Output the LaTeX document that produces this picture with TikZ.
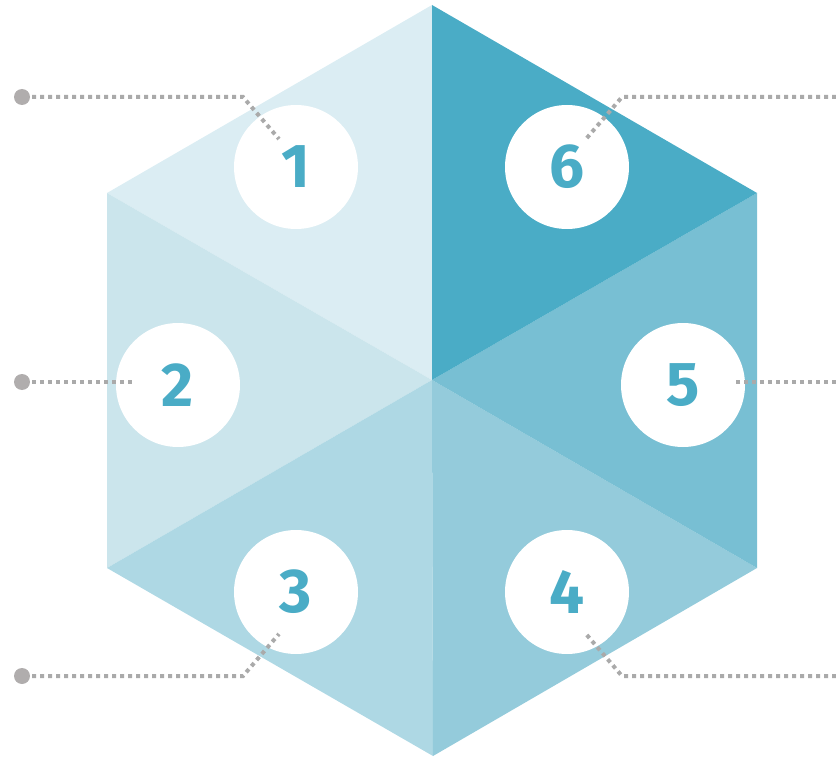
\documentclass[tikz,border=0pt]{standalone}
\usepackage{fontspec}
\setmainfont{Fira Sans}
\definecolor{cA}{HTML}{DBEDF3}
\definecolor{cB}{HTML}{CBE5EC}
\definecolor{cC}{HTML}{AED8E4}
\definecolor{cD}{HTML}{94CBDB}
\definecolor{cE}{HTML}{78BFD3}
\definecolor{cF}{HTML}{4AACC6}
\definecolor{dotgray}{HTML}{AAAAAA}
\definecolor{endgray}{HTML}{B0ADAD}
\begin{document}
\begin{tikzpicture}[x=1pt,y=-1pt,
  badge/.style={circle,fill=white,minimum size=124pt,inner sep=0pt,text=cF,font=\fontsize{62}{62}\selectfont\bfseries},
  leader/.style={draw=dotgray,line width=4pt,dash pattern=on 4pt off 4pt},
  enddot/.style={circle,fill=endgray,minimum size=16pt,inner sep=0pt}]
\useasboundingbox (0,0) rectangle (836,757);
\coordinate (O) at (432,380);
\coordinate (T) at (432,5);
\coordinate (TR) at (757,193);
\coordinate (BR) at (757,568);
\coordinate (B) at (433,756);
\coordinate (BL) at (107,568);
\coordinate (TL) at (107,193);
\fill[cA] (O) -- (TL) -- (T) -- cycle;
\fill[cB] (O) -- (BL) -- (TL) -- cycle;
\fill[cC] (O) -- (B) -- (BL) -- cycle;
\fill[cD] (O) -- (BR) -- (B) -- cycle;
\fill[cE] (O) -- (TR) -- (BR) -- cycle;
\fill[cF] (O) -- (T) -- (TR) -- cycle;
% badges
\node[badge] (n1) at (296,167) {1};
\node[badge] (n6) at (567,167) {6};
\node[badge] (n2) at (178,385) {2};
\node[badge] (n5) at (683,385) {5};
\node[badge] (n3) at (296,592) {3};
\node[badge] (n4) at (567,592) {4};
% leaders
\node[enddot] (e1) at (22,97) {};
\node[enddot] (e2) at (22,382) {};
\node[enddot] (e3) at (22,676) {};
\coordinate (r1) at (836,97);
\coordinate (r2) at (836,382);
\coordinate (r3) at (836,676);
\draw[leader] (e1.center) ++(10,0) -- (243,97) -- (279,139);
\draw[leader] (e2.center) ++(10,0) -- (133,382);
\draw[leader] (e3.center) ++(10,0) -- (243,676) -- (279,634);
\draw[leader] (r1) -- (622,97) -- (586,139);
\draw[leader] (r2) -- (733,382);
\draw[leader] (r3) -- (622,676) -- (586,634);
\end{tikzpicture}
\end{document}
